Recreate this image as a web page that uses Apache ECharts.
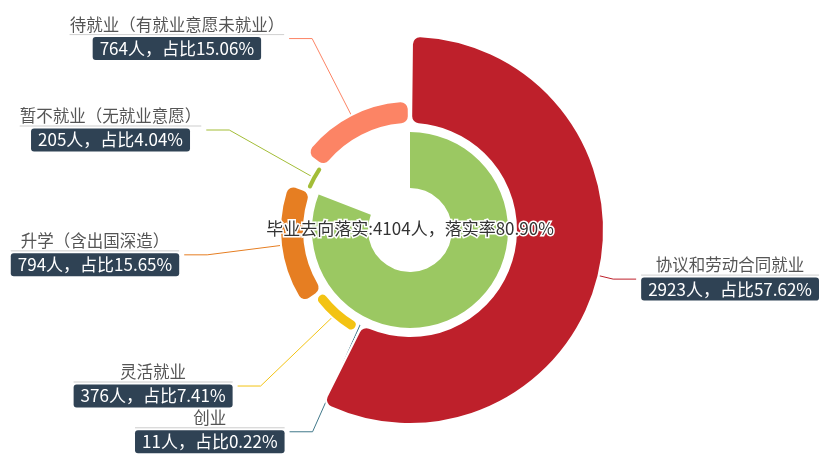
<!DOCTYPE html>
<html><head><meta charset="utf-8">
<script src="https://cdn.jsdelivr.net/npm/echarts@6/dist/echarts.min.js"></script>
<style>html,body{margin:0;padding:0;background:#fff}#main{width:819px;height:455px}</style>
</head><body><div id="main"></div>
<script>
// ---- data ----
const categories = ['协议和劳动合同就业', '创业', '灵活就业', '升学（含出国深造）', '暂不就业（无就业意愿）', '待就业（有就业意愿未就业）'];
const counts = [2923, 11, 376, 794, 205, 764];
const innerNames = ['已落实', '未落实'];
const innerValues = [4104, 969];
const placementRate = '80.90';

// ---- styles ----
const palette = ['#be202b', '#41788a', '#f3c313', '#e67e22', '#a3bd37', '#fc8465'];
const lineLengths = [15, 15, 15, 15, 15, 21];
const FONT = '"Noto Sans CJK SC", "Noto Sans", sans-serif';
const CENTER = [410, 230];
const RING = [106, 194];
const sectorStyle = {borderRadius: 8, borderColor: '#fff', borderWidth: 2};

const chart = echarts.init(document.getElementById('main'), null, {renderer: 'canvas'});
chart.setOption({
  animation: false,
  textStyle: {fontFamily: FONT},
  graphic: [{
    type: 'text', x: 410, y: 229, z: 100,
    style: {
      text: '毕业去向落实:' + innerValues[0] + '人，落实率' + placementRate + '%',
      textAlign: 'center', textVerticalAlign: 'middle',
      fontSize: 17, fontFamily: FONT, fill: '#333', stroke: '#fff', lineWidth: 3
    }
  }],
  series: [
    {
      type: 'pie', name: '毕业去向', roseType: 'radius', z: 2,
      left: 0, top: 0, width: 900, height: 455,
      center: CENTER, radius: RING, startAngle: 90, clockwise: true,
      padAngle: 1.2,
      itemStyle: sectorStyle,
      label: {
        formatter: function (p) {
          return '{a|' + p.name + '}\n{hr|}\n{b|' + p.value + '人，占比' + p.percent.toFixed(2) + '%}';
        },
        rich: {
          a: {fontSize: 16.5, lineHeight: 20, color: '#555', align: 'center', fontFamily: FONT},
          hr: {width: '100%', height: 0, borderWidth: 0.5, borderColor: '#c4c4c4'},
          b: {fontSize: 17, height: 23, lineHeight: 28, color: '#fff', backgroundColor: '#2f4254', padding: [0, 7], borderRadius: 3, align: 'center', fontFamily: FONT}
        }
      },
      labelLine: {length: 15, length2: 23, lineStyle: {width: 1}},
      data: categories.map(function (n, i) {
        return {name: n, value: counts[i], itemStyle: {color: palette[i]}, labelLine: {length: lineLengths[i]}};
      })
    },
    {
      // the largest sector drawn again on top, so that label lines pass beneath it
      type: 'pie', name: '覆盖', roseType: 'radius', silent: true, z: 3,
      left: 0, top: 0, width: 900, height: 455,
      center: CENTER, radius: RING, startAngle: 90, clockwise: true,
      padAngle: 1.2,
      label: {show: false}, labelLine: {show: false},
      data: categories.map(function (n, i) {
        return {name: n, value: counts[i], itemStyle: i === 0
          ? Object.assign({color: palette[i]}, sectorStyle)
          : {color: 'rgba(0,0,0,0)', borderWidth: 0}};
      })
    },
    {
      type: 'pie', name: '落实', silent: true, z: 4,
      center: CENTER, radius: [42, 98], startAngle: 90, clockwise: true,
      label: {show: false}, labelLine: {show: false},
      data: innerNames.map(function (n, i) {
        return {name: n, value: innerValues[i], itemStyle: {color: i === 0 ? '#9bc862' : 'rgba(0,0,0,0)'}};
      })
    }
  ]
});
</script></body></html>
